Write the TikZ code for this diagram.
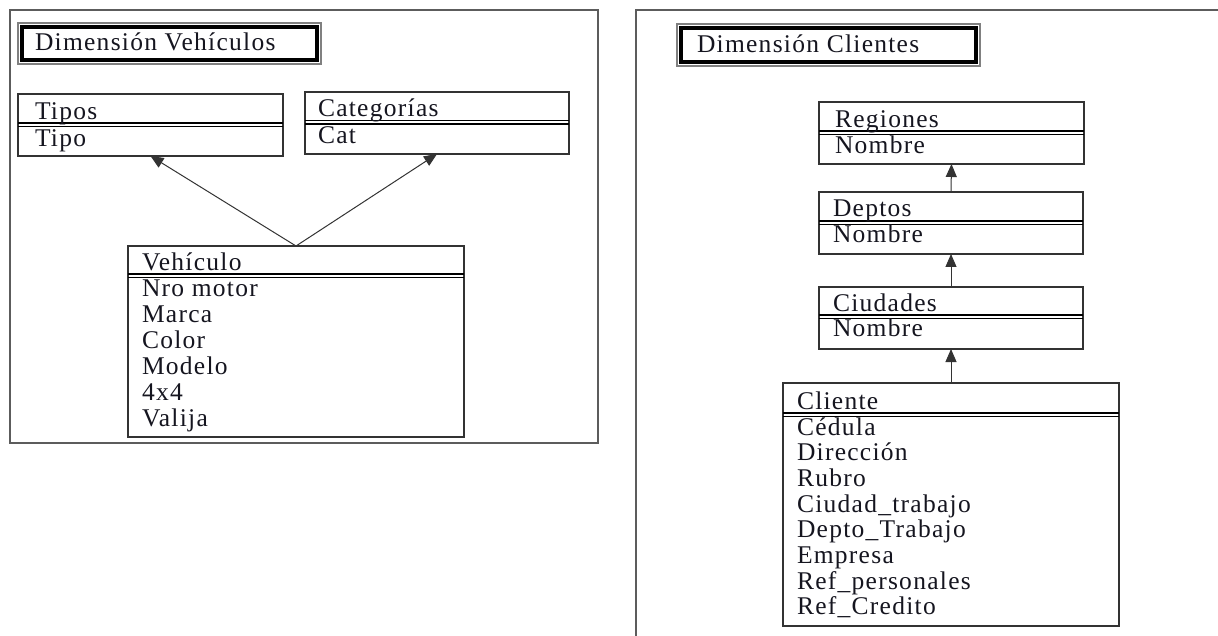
\documentclass[tikz,border=0pt]{standalone}
\usepackage{fontspec}
\setmainfont{Liberation Serif}[LetterSpace=5]
\usetikzlibrary{arrows.meta,fit}

\definecolor{framegray}{HTML}{5C5C5C}
\definecolor{edgegray}{HTML}{333333}
\definecolor{ink}{HTML}{15151F}

\tikzset{
  txt/.style={anchor=base west, inner sep=0pt, outer sep=0pt, text=ink,
              font=\fontsize{25.5pt}{26pt}\selectfont},
  entity/.style={draw=edgegray, line width=1.7pt, inner sep=0pt, outer sep=0pt},
  divider/.style={draw=black, line width=1.5pt},
  conn/.style={draw=edgegray, line width=1pt, -{Triangle[length=13pt,width=11pt]}},
  outerframe/.style={draw=framegray, line width=2pt},
  titleouter/.style={draw=gray, line width=1.4pt, inner sep=0pt, outer sep=0pt},
  titleinner/.style={draw=black, line width=3.5pt},
}

% entity box: name, left, top, right, bottom, y of the header divider
\newcommand{\entitybox}[6]{%
  \coordinate (#1-nw) at (#2,#3);
  \coordinate (#1-se) at (#4,#5);
  \node[entity, fit=(#1-nw)(#1-se)] (#1) {};
  \draw[divider] (#2,#6) -- (#4,#6);
  \draw[divider] (#2,#6+3.5) -- (#4,#6+3.5);
}

% double-bordered title: name, left, top, right, bottom
\newcommand{\titlebox}[5]{%
  \coordinate (#1-nw) at (#2,#3);
  \coordinate (#1-se) at (#4,#5);
  \node[titleouter, fit=(#1-nw)(#1-se)] (#1) {};
  \draw[titleinner] (#2+4,#3+4) rectangle (#4-4,#5-4);
}

\begin{document}
\begin{tikzpicture}[x=1pt,y=-1pt]
  \useasboundingbox (0,0) rectangle (1218,636);
  \clip (0,0) rectangle (1218,636);

  % ---------- Dimensión Vehículos ----------
  \draw[outerframe] (10,10) rectangle (598,443);
  \titlebox{tveh}{18}{23}{321}{64}
  \node[txt] (tveh-text) at (35,51) {Dimensión Vehículos};

  \entitybox{tipos}{18}{94}{283}{156}{123}
  \node[txt] (tipos-h) at (35,120) {Tipos};
  \node[txt] (tipos-a1) at (35,147) {Tipo};

  \entitybox{cat}{305}{92}{569}{154}{120.5}
  \node[txt] (cat-h) at (318,117) {Categorías};
  \node[txt] (cat-a1) at (318,144) {Cat};

  \entitybox{veh}{128}{246}{464}{437}{274}
  \node[txt] (veh-h) at (142,271) {Vehículo};
  \foreach \t [count=\i] in {Nro motor, Marca, Color, Modelo, 4x4, Valija}
    \node[txt] (veh-a\i) at (142,{297+25.8*(\i-1)}) {\t};

  \draw[conn] (veh.north) -- (tipos.south);
  \draw[conn] (veh.north) -- (cat.south);

  % ---------- Dimensión Clientes ----------
  \draw[outerframe] (1240,10) -- (636,10) -- (636,660);
  \titlebox{tcli}{677}{24}{980}{66}
  \node[txt] (tcli-text) at (697,53) {Dimensión Clientes};

  \entitybox{reg}{819}{102}{1084}{164}{131}
  \node[txt] (reg-h) at (835,128) {Regiones};
  \node[txt] (reg-a1) at (835,154) {Nombre};

  \entitybox{dep}{819}{192}{1083}{254}{221}
  \node[txt] (dep-h) at (833,217) {Deptos};
  \node[txt] (dep-a1) at (833,243) {Nombre};

  \entitybox{ciu}{819}{287}{1083}{349}{315}
  \node[txt] (ciu-h) at (833,312) {Ciudades};
  \node[txt] (ciu-a1) at (833,337) {Nombre};

  \entitybox{cli}{783}{383}{1119}{626}{413}
  \node[txt] (cli-h) at (797,409) {Cliente};
  \foreach \t [count=\i] in {Cédula, Dirección, Rubro, Ciudad\_trabajo,
      Depto\_Trabajo, Empresa, Ref\_personales, Ref\_Credito}
    \node[txt] (cli-a\i) at (797,{435+25.7*(\i-1)}) {\t};

  \draw[conn] (dep.north) -- (reg.south);
  \draw[conn] (ciu.north) -- (dep.south);
  \draw[conn] (cli.north) -- (ciu.south);
\end{tikzpicture}
\end{document}
